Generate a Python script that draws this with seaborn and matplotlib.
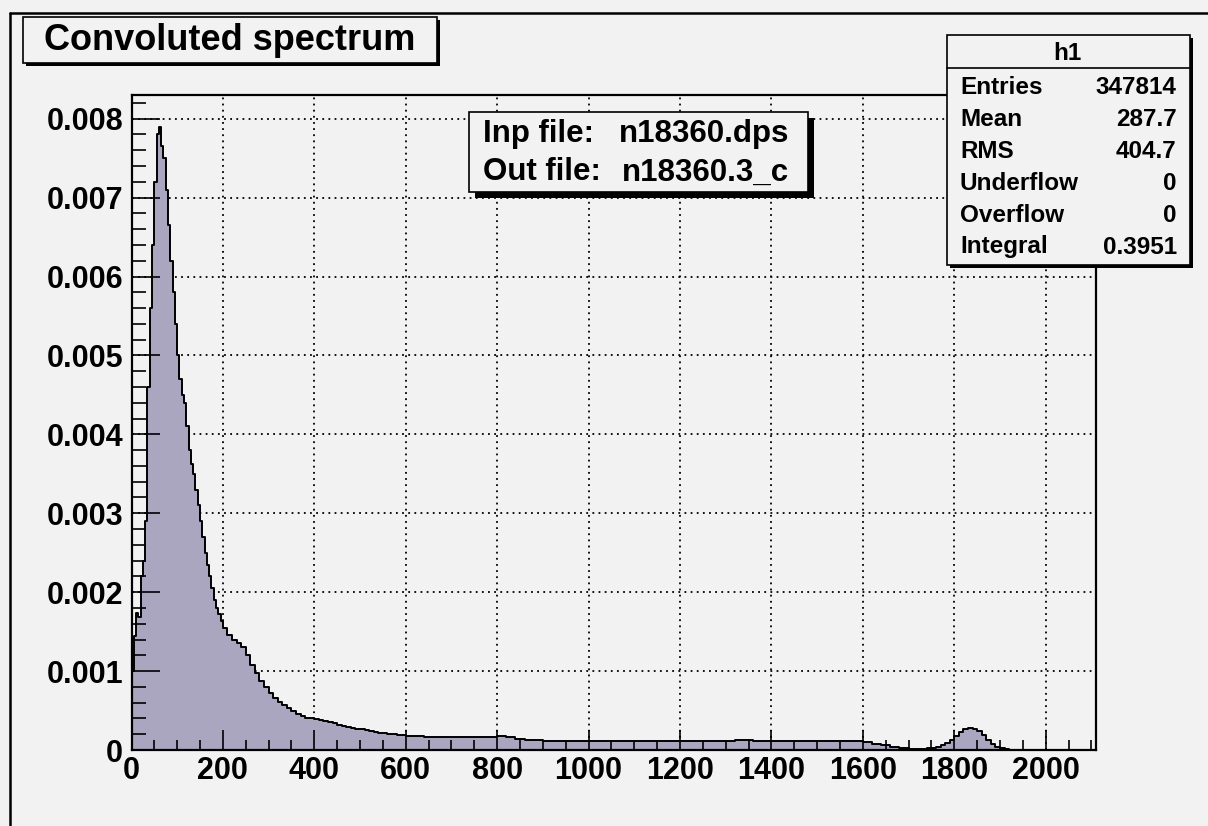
import numpy as np
import pandas as pd
import matplotlib
matplotlib.use("Agg")
import matplotlib.pyplot as plt
from matplotlib.patches import Rectangle
from matplotlib.lines import Line2D
import seaborn as sns

# ---------------- data ----------------
# bin values for 0-200 (5-unit bins)
peak_vals = [0.00100, 0.00145, 0.00174, 0.00168, 0.00220, 0.00240, 0.00290, 0.00460, 0.00560, 0.00640,
             0.00720, 0.00780, 0.00790, 0.00765, 0.00750, 0.00710, 0.00665, 0.00620, 0.00580, 0.00540,
             0.00500, 0.00470, 0.00450, 0.00440, 0.00410, 0.00380, 0.00362, 0.00350, 0.00330, 0.00310,
             0.00290, 0.00270, 0.00250, 0.00235, 0.00220, 0.00205, 0.00190, 0.00180, 0.00172, 0.00163]
# 200-600 (10-unit bins)
shoulder_vals = [0.00155, 0.00146, 0.00140, 0.00136, 0.00130, 0.00120, 0.00108, 0.00097, 0.00087, 0.00080,
                 0.00072, 0.00066, 0.00061, 0.00057, 0.00053, 0.00049, 0.00046, 0.00043, 0.00041, 0.00040,
                 0.00039, 0.00038, 0.00037, 0.00036, 0.00034, 0.00032, 0.00031, 0.00029, 0.00028, 0.00027,
                 0.00026, 0.00025, 0.00024, 0.00023, 0.00022, 0.00021, 0.00020, 0.00020, 0.00019, 0.00019]
# 600-1760 (20-unit bins)
tail_vals = [0.00018, 0.00018, 0.00017, 0.00017, 0.00017, 0.00016, 0.00016, 0.00016, 0.00016, 0.00017,
             0.00018, 0.00017, 0.00014, 0.00013, 0.00013, 0.00012, 0.00012, 0.00012, 0.00012, 0.00012,
             0.00011, 0.00011, 0.00011, 0.00011, 0.00011, 0.00011, 0.00011, 0.00011, 0.00011, 0.00011,
             0.00011, 0.00011, 0.00011, 0.00011, 0.00011,
             0.00012, 0.00013, 0.00013, 0.00012, 0.00011,
             0.00011, 0.00011, 0.00011, 0.00011, 0.00011, 0.00011,
             0.00012, 0.00012, 0.00012, 0.00011,
             0.00010, 0.00008, 0.00006, 0.00004, 0.00002, 0.00001, 0.00001, 0.00002]
# 1760-1920 (10-unit bins)
bump_vals = [0.00004, 0.00006, 0.00009, 0.00013, 0.00018, 0.00023, 0.00026, 0.00028,
             0.00027, 0.00024, 0.00019, 0.00013, 0.00008, 0.00004, 0.00002, 0.00001]
end_vals = [0.0]

bin_edges = np.concatenate([np.arange(0, 200, 5), np.arange(200, 600, 10),
                            np.arange(600, 1760, 20), np.arange(1760, 1920, 10),
                            [1920, 2110]]).astype(float)
values = np.array(peak_vals + shoulder_vals + tail_vals + bump_vals + end_vals)
centers = 0.5 * (bin_edges[:-1] + bin_edges[1:])
df = pd.DataFrame({"x": centers, "w": values})

x_major = [0, 200, 400, 600, 800, 1000, 1200, 1400, 1600, 1800, 2000]
x_labels = ["0", "200", "400", "600", "800", "1000", "1200", "1400", "1600", "1800", "2000"]
y_major = [0, 0.001, 0.002, 0.003, 0.004, 0.005, 0.006, 0.007, 0.008]
y_labels = ["0", "0.001", "0.002", "0.003", "0.004", "0.005", "0.006", "0.007", "0.008"]

title = "Convoluted spectrum"
info_labels = ["Inp file:", "Out file:"]
info_values = ["n18360.dps", "n18360.3_c"]
stats_name = "h1"
stats_labels = ["Entries", "Mean", "RMS", "Underflow", "Overflow", "Integral"]
stats_values = ["347814", "287.7", "404.7", "0", "0", "0.3951"]

# ---------------- style ----------------
sns.set_style("ticks")
BG = "#f2f2f2"
FILL = "#aaa6c0"
plt.rcParams["font.family"] = ["Liberation Sans", "DejaVu Sans"]
plt.rcParams["font.weight"] = "bold"
plt.rcParams["text.color"] = "black"
plt.rcParams["xtick.color"] = "black"
plt.rcParams["ytick.color"] = "black"
plt.rcParams["axes.labelcolor"] = "black"

W, H = 1208, 826
fig = plt.figure(figsize=(W / 100, H / 100), dpi=100, facecolor=BG)
ax = fig.add_axes([131.5 / W, 1 - 750 / H, (1096 - 131.5) / W, (750 - 95) / H])
ax.set_facecolor(BG)

# dotted grid below the histogram
for v in x_major[1:]:
    ax.axvline(v, color="black", lw=1.3, ls=(0, (1, 2.4)), zorder=0.5)
for v in y_major[1:]:
    ax.axhline(v, color="black", lw=1.3, ls=(0, (1, 2.4)), zorder=0.5)

sns.histplot(data=df, x="x", weights="w", bins=bin_edges.tolist(), element="step", fill=True,
             color=FILL, alpha=1, edgecolor="black", linewidth=1.4, ax=ax, zorder=1)

ax.set_xlim(0, 2110)
ax.set_ylim(0, 0.0083)
ax.set_xlabel("")
ax.set_ylabel("")
ax.set_axisbelow(False)

ax.set_xticks(x_major)
ax.set_xticklabels(x_labels)
ax.set_xticks(np.arange(50, 2110, 50), minor=True)
ax.set_yticks(y_major)
ax.set_yticklabels(y_labels)
ax.set_yticks(np.arange(0.0002, 0.0083, 0.0002), minor=True)

ax.tick_params(axis="x", which="major", direction="in", length=14.5, width=1.2,
               labelsize=22, pad=4, top=False, colors="black")
ax.tick_params(axis="x", which="minor", direction="in", length=7.2, width=1.2, top=False,
               colors="black")
ax.tick_params(axis="y", which="major", direction="in", length=20, width=1.2,
               labelsize=22, pad=6, right=False, colors="black")
ax.tick_params(axis="y", which="minor", direction="in", length=10, width=1.2, right=False,
               colors="black")
for lab in ax.get_xticklabels() + ax.get_yticklabels():
    lab.set_fontweight("bold")
for s in ax.spines.values():
    s.set_visible(True)
    s.set_linewidth(1.6)
    s.set_color("black")
    s.set_zorder(3)


def px_box(x0, y0, x1, y1, shadow, lw=1.2):
    # figure-pixel box (top-left origin) with a black drop shadow
    fx0, fx1 = x0 / W, x1 / W
    fy0, fy1 = 1 - y1 / H, 1 - y0 / H
    sh = Rectangle((fx0 + shadow / W, fy0 - shadow / H), fx1 - fx0, fy1 - fy0,
                   transform=fig.transFigure, facecolor="black", edgecolor="none", zorder=5)
    bx = Rectangle((fx0, fy0), fx1 - fx0, fy1 - fy0, transform=fig.transFigure,
                   facecolor=BG, edgecolor="black", lw=lw, zorder=6)
    fig.add_artist(sh)
    fig.add_artist(bx)


# canvas border lines (left and top)
fig.add_artist(Line2D([10 / W, 10 / W], [0, 1 - 13 / H], transform=fig.transFigure,
                      color="black", lw=1.8, zorder=4))
fig.add_artist(Line2D([10 / W, 1], [1 - 13 / H, 1 - 13 / H], transform=fig.transFigure,
                      color="black", lw=1.8, zorder=4))

# title box
px_box(22.7, 16.7, 436.7, 63.3, 3)
fig.text(229.7 / W, 1 - 41 / H, title, ha="center", va="center", fontsize=26,
         fontweight="bold", color="black", zorder=7)

# info box
px_box(469.3, 111.7, 807.7, 192.3, 6)
for i, (lab, val) in enumerate(zip(info_labels, info_values)):
    yy = 1 - (134 + 38.4 * i) / H
    fig.text(482.7 / W, yy, lab, ha="left", va="center", fontsize=22.5, fontweight="bold",
             color="black", zorder=7)
    fig.text(789 / W, yy, val, ha="right", va="center", fontsize=22.5, fontweight="bold",
             color="black", zorder=7)

# stats box
px_box(946.7, 35, 1190, 265, 3)
fig.add_artist(Line2D([946.7 / W, 1190 / W], [1 - 68.3 / H, 1 - 68.3 / H],
                      transform=fig.transFigure, color="black", lw=1.2, zorder=7))
fig.text(1067.7 / W, 1 - 54 / H, stats_name, ha="center", va="center", fontsize=17.5,
         fontweight="bold", color="black", zorder=7)
for i, (lab, val) in enumerate(zip(stats_labels, stats_values)):
    yy = 1 - (87 + 32 * i) / H
    fig.text(960 / W, yy, lab, ha="left", va="center", fontsize=17.5, fontweight="bold",
             color="black", zorder=7)
    fig.text(1176.7 / W, yy, val, ha="right", va="center", fontsize=17.5, fontweight="bold",
             color="black", zorder=7)

fig.savefig("out.png", dpi=100, facecolor=BG)
